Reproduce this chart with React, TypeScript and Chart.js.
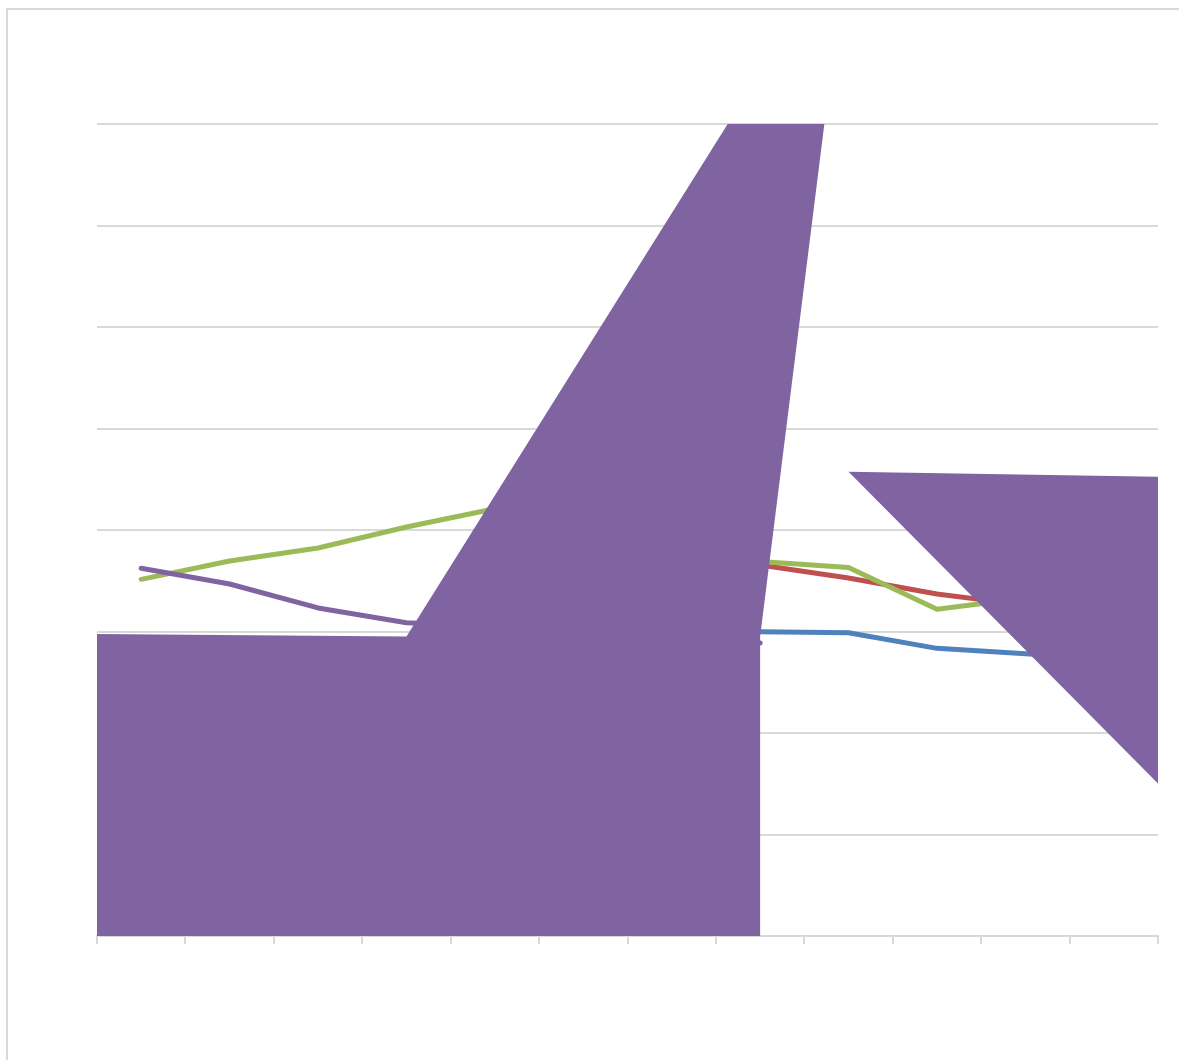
import React, { useEffect, useRef } from 'react';
import { Chart, registerables } from 'chart.js';

Chart.register(...registerables);

// Categories (labels are not shown in the reference)
const categories = ['1', '2', '3', '4', '5', '6', '7', '8', '9', '10', '11', '12'];

// Line series values (y axis 0..80, 8 gridline intervals)
const blueValues = [28.0, 28.3, 28.6, 28.9, 29.3, 29.6, 29.9, 29.98, 29.88, 28.34, 27.8, 27.3];
const redValues = [26.0, 26.8, 27.5, 28.3, 31.5, 34.0, 35.8, 36.55, 35.27, 33.7, 32.6, 32.0];
const greenValues = [35.14, 36.95, 38.23, 40.3, 42.1, 42.8, 39.8, 36.9, 36.3, 32.2, 33.3, 34.0];
const purpleValues = [36.23, 34.68, 32.32, 30.87, 30.5, 30.0, 29.6, 28.87, null, null, null, null];

// Filled purple shapes, in data units (x: category position 0..12, y: value)
const areaLeftX = [0, 3.5, 8.5, 7.5, 7.5, 0];
const areaLeftY = [29.75, 29.5, 99, 29.5, 0, 0];
const areaRightX = [8.5, 13, 13];
const areaRightY = [45.75, 45.1, 6.25];

// Axis settings
const yMin = 0;
const yMax = 80;
const yStep = 10;

const BLUE = '#4F81BD';
const RED = '#C0504D';
const GREEN = '#9BBB59';
const PURPLE = '#8064A2';
const GRID = '#d9d9d9';

export default function App() {
  const ref = useRef<HTMLCanvasElement>(null);

  useEffect(() => {
    if (!ref.current) return;
    const lineStyle = {
      borderWidth: 5,
      pointRadius: 0,
      pointHoverRadius: 0,
      tension: 0,
      fill: false,
      borderCapStyle: 'round' as const,
      borderJoinStyle: 'round' as const,
      spanGaps: false,
    };
    const toPoints = (xs: number[], ys: number[]) => xs.map((x, i) => ({ x, y: ys[i] }));

    const chart = new Chart(ref.current, {
      type: 'line',
      data: {
        labels: categories,
        datasets: [
          { label: 'Series 1', data: blueValues, borderColor: BLUE, backgroundColor: BLUE, order: 5, ...lineStyle },
          { label: 'Series 2', data: redValues, borderColor: RED, backgroundColor: RED, order: 4, ...lineStyle },
          { label: 'Series 3', data: greenValues, borderColor: GREEN, backgroundColor: GREEN, order: 3, ...lineStyle },
          { label: 'Series 4', data: purpleValues as any, borderColor: PURPLE, backgroundColor: PURPLE, order: 2, ...lineStyle },
          {
            label: 'Area A',
            data: toPoints(areaLeftX, areaLeftY) as any,
            xAxisID: 'x2',
            borderWidth: 0,
            borderColor: PURPLE,
            backgroundColor: PURPLE,
            pointRadius: 0,
            pointHoverRadius: 0,
            tension: 0,
            fill: 'shape' as any,
            order: 1,
          },
          {
            label: 'Area B',
            data: toPoints(areaRightX, areaRightY) as any,
            xAxisID: 'x2',
            borderWidth: 0,
            borderColor: PURPLE,
            backgroundColor: PURPLE,
            pointRadius: 0,
            pointHoverRadius: 0,
            tension: 0,
            fill: 'shape' as any,
            order: 0,
          },
        ],
      },
      options: {
        animation: false,
        responsive: true,
        maintainAspectRatio: false,
        layout: { padding: { left: 89, top: 114, right: 13, bottom: 108 } },
        plugins: {
          legend: { display: false },
          tooltip: { enabled: false },
          title: { display: false },
        },
        scales: {
          x: {
            type: 'category',
            offset: true,
            grid: {
              offset: true,
              drawOnChartArea: false,
              drawTicks: true,
              tickLength: 8,
              color: GRID,
              lineWidth: 2,
            },
            border: { display: true, color: GRID, width: 2 },
            ticks: { display: false },
          },
          x2: {
            type: 'linear',
            axis: 'x',
            min: 0,
            max: 12,
            display: false,
          },
          y: {
            min: yMin,
            max: yMax,
            ticks: { display: false, stepSize: yStep },
            grid: { color: GRID, lineWidth: 2, drawTicks: false },
            border: { display: false },
          },
        },
      },
    });
    return () => chart.destroy();
  }, []);

  return (
    <div
      style={{
        position: 'fixed',
        left: 6,
        top: 8,
        width: 1250,
        height: 1150,
        borderTop: `2px solid ${GRID}`,
        borderLeft: `2px solid ${GRID}`,
        background: '#ffffff',
      }}
    >
      <div style={{ position: 'absolute', left: 0, top: 0, width: 1163, height: 1042 }}>
        <canvas ref={ref} />
      </div>
    </div>
  );
}
